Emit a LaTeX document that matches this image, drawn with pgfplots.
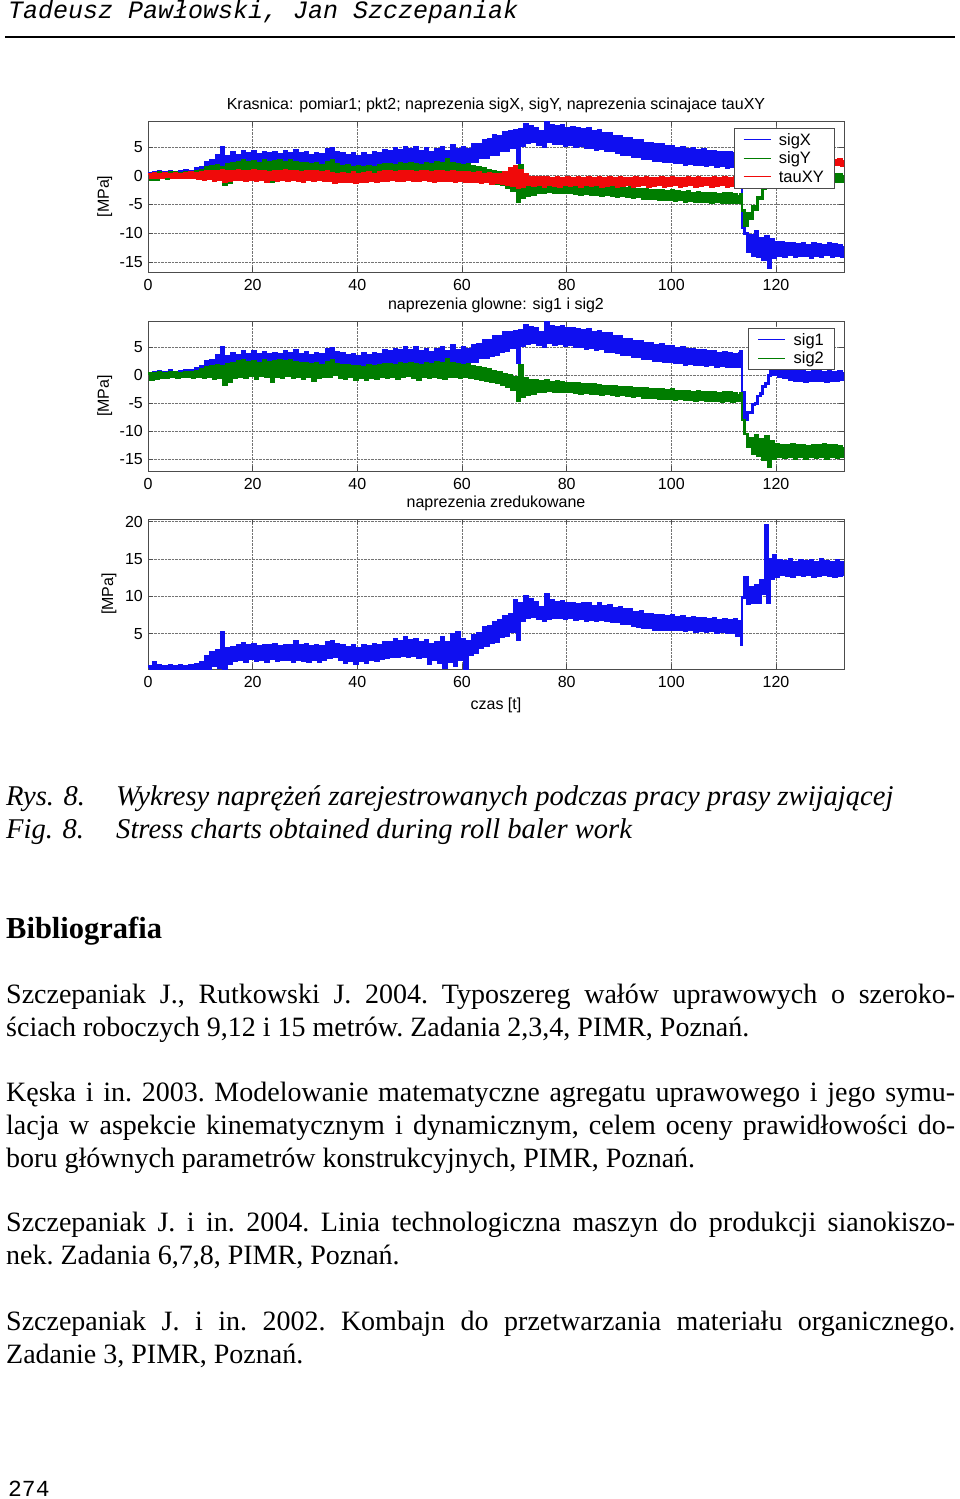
\documentclass[border=0pt]{standalone}
\usepackage{fontspec}
\setmainfont{Liberation Serif}
\newfontfamily\chartfont{Liberation Sans}
\newfontfamily\monofont{Liberation Mono}
\usepackage{pgfplots}
\usepackage{pgfplotstable}
\pgfplotsset{compat=1.18}
\definecolor{mblue}{RGB}{15,15,240}
\definecolor{mgreen}{RGB}{0,125,0}
\definecolor{mred}{RGB}{240,10,10}
\newcommand\cf{\chartfont\fontsize{16}{18}\selectfont}

% blue: sigX = sig1 up to t=113
\pgfplotstableread[row sep=\\]{t y\\
0 0.4\\0.5 -0.5\\1 0.5\\1.5 -0.3\\2 0.7\\2.5 -0.1\\3 0.6\\3.5 0.0\\4 0.8\\4.5 0.1\\5 0.6\\5.5 -0.1\\6 0.7\\6.5 0.2\\7 0.9\\7.5 0.0\\8 0.8\\8.5 0.2\\9 1.2\\9.5 0.1\\
10 1.5\\10.5 0.4\\11 2.4\\11.5 0.5\\12 2.7\\12.5 1.0\\13 3.6\\13.5 0.9\\14 5.0\\14.5 1.2\\15 3.4\\15.5 1.5\\16 4.0\\16.5 1.3\\17 3.6\\17.5 1.7\\18 4.2\\18.5 1.5\\19 3.8\\19.5 2.0\\
20 4.3\\20.5 1.6\\21 3.7\\21.5 1.9\\22 4.1\\22.5 1.6\\23 3.8\\23.5 2.0\\24 4.0\\24.5 1.7\\25 3.7\\25.5 2.1\\26 4.2\\26.5 1.8\\27 3.9\\27.5 1.6\\28 4.4\\28.5 2.0\\29 3.8\\29.5 1.7\\
30 4.1\\30.5 1.5\\31 3.6\\31.5 1.9\\32 3.9\\32.5 1.4\\33 3.7\\33.5 2.0\\34 4.6\\34.5 2.1\\35 4.8\\35.5 2.5\\36 4.1\\36.5 1.8\\37 3.9\\37.5 1.4\\38 3.5\\38.5 1.6\\39 3.8\\39.5 1.1\\
40 3.4\\40.5 1.6\\41 3.9\\41.5 1.3\\42 3.5\\42.5 1.7\\43 4.0\\43.5 1.5\\44 3.8\\44.5 2.0\\45 4.4\\45.5 1.8\\46 4.3\\46.5 2.2\\47 4.7\\47.5 2.1\\48 4.4\\48.5 2.4\\49 5.0\\49.5 2.2\\
50 4.5\\50.5 2.4\\51 4.9\\51.5 2.0\\52 4.3\\52.5 2.1\\53 4.7\\53.5 1.5\\54 4.1\\54.5 1.9\\55 4.6\\55.5 1.4\\56 4.9\\56.5 0.9\\57 4.2\\57.5 1.3\\58 5.3\\58.5 1.2\\59 4.5\\59.5 1.7\\
60 5.0\\60.5 1.9\\61 4.6\\61.5 2.4\\62 5.4\\62.5 2.5\\63 5.5\\63.5 3.1\\64 6.2\\64.5 3.2\\65 6.3\\65.5 3.6\\66 7.0\\66.5 3.7\\67 6.9\\67.5 4.3\\68 7.6\\68.5 4.4\\69 7.7\\69.5 4.9\\
70 7.9\\70.5 2.3\\71 8.0\\71.5 5.3\\72 8.9\\72.5 5.7\\73 8.5\\73.5 5.9\\74 8.3\\74.5 5.4\\75 7.7\\75.5 5.1\\76 9.5\\76.5 5.9\\77 8.7\\77.5 5.5\\78 8.6\\78.5 5.6\\79 8.8\\79.5 5.3\\
80 8.3\\80.5 5.4\\81 8.4\\81.5 5.1\\82 8.2\\82.5 5.2\\83 8.1\\83.5 4.8\\84 8.2\\84.5 4.9\\85 7.7\\85.5 4.6\\86 7.9\\86.5 4.7\\87 7.4\\87.5 4.3\\88 7.4\\88.5 4.3\\89 6.9\\89.5 4.1\\
90 6.9\\90.5 3.7\\91 6.5\\91.5 3.7\\92 6.5\\92.5 3.3\\93 6.1\\93.5 3.3\\94 6.1\\94.5 2.9\\95 5.7\\95.5 3.0\\96 5.7\\96.5 2.7\\97 5.4\\97.5 2.7\\98 5.5\\98.5 2.4\\99 5.1\\99.5 2.5\\
100 5.1\\100.5 2.2\\101 4.8\\101.5 2.3\\102 4.9\\102.5 2.0\\103 4.6\\103.5 2.1\\104 4.7\\104.5 1.9\\105 4.4\\105.5 2.0\\106 4.5\\106.5 1.7\\107 4.2\\107.5 1.9\\108 4.3\\108.5 1.6\\109 4.0\\109.5 1.7\\
110 4.1\\110.5 1.5\\111 4.0\\111.5 1.6\\112 3.8\\112.5 1.5\\113 4.2\\
}\bluemain

\pgfplotstableread[row sep=\\]{t y\\
113 4.2\\113.5 -9.0\\114 -10.0\\114.5 -13.2\\115 -10.4\\115.5 -13.8\\116 -9.6\\116.5 -14.0\\117 -10.8\\117.5 -14.5\\118 -10.5\\118.5 -16.0\\119 -11.0\\119.5 -14.2\\
120 -11.5\\120.5 -13.9\\121 -11.6\\121.5 -14.0\\122 -11.8\\122.5 -13.7\\123 -11.7\\123.5 -14.1\\124 -11.9\\124.5 -13.8\\125 -11.8\\125.5 -13.9\\126 -12.0\\126.5 -14.2\\
127 -11.8\\127.5 -13.8\\128 -11.9\\128.5 -14.0\\129 -12.0\\129.5 -13.7\\130 -11.7\\130.5 -14.1\\131 -11.9\\131.5 -13.9\\132 -12.0\\132.5 -14.0\\133 -12.2\\
}\sigXtail

\pgfplotstableread[row sep=\\]{t y\\
113 4.2\\113.5 -3.0\\114 -8.0\\114.5 -6.6\\115 -6.6\\115.5 -5.2\\116 -5.0\\116.5 -3.7\\117 -3.3\\117.5 -2.0\\118 -1.4\\118.5 0.0\\119 1.5\\119.5 0.1\\
120 1.6\\120.5 -0.2\\121 1.3\\121.5 -0.4\\122 1.0\\122.5 -0.8\\123 0.8\\123.5 -1.0\\124 0.7\\124.5 -0.9\\125 0.8\\125.5 -1.1\\126 0.6\\126.5 -0.9\\
127 0.7\\127.5 -1.0\\128 0.8\\128.5 -0.9\\129 0.6\\129.5 -1.1\\130 0.7\\130.5 -0.9\\131 0.6\\131.5 -1.0\\132 0.7\\132.5 -0.8\\133 0.5\\
}\sigonetail

% green: sigY = sig2 up to t=113
\pgfplotstableread[row sep=\\]{t y\\
0 0.3\\0.5 -0.7\\1 0.4\\1.5 -0.6\\2 0.5\\2.5 -0.4\\3 0.4\\3.5 -0.5\\4 0.6\\4.5 -0.3\\5 0.5\\5.5 -0.4\\6 0.4\\6.5 -0.3\\7 0.6\\7.5 -0.2\\8 0.5\\8.5 -0.4\\9 0.7\\9.5 -0.3\\
10 1.0\\10.5 -0.5\\11 1.4\\11.5 -0.2\\12 1.6\\12.5 -0.6\\13 1.8\\13.5 -0.4\\14 1.5\\14.5 -1.6\\15 2.0\\15.5 -1.2\\16 2.2\\16.5 -0.4\\17 2.4\\17.5 -0.2\\18 2.6\\18.5 -0.5\\19 2.3\\19.5 -0.1\\
20 2.5\\20.5 -0.6\\21 2.2\\21.5 0.0\\22 2.6\\22.5 -0.3\\23 2.3\\23.5 -1.1\\24 2.5\\24.5 -0.2\\25 2.7\\25.5 -0.4\\26 2.4\\26.5 0.0\\27 2.6\\27.5 -0.5\\28 2.3\\28.5 -0.2\\29 2.1\\29.5 -0.6\\
30 2.2\\30.5 -0.3\\31 1.9\\31.5 -0.9\\32 2.1\\32.5 -0.4\\33 1.8\\33.5 -0.2\\34 2.3\\34.5 -0.3\\35 2.6\\35.5 0.1\\36 2.0\\36.5 -0.4\\37 1.7\\37.5 -0.6\\38 1.8\\38.5 -0.3\\39 1.5\\39.5 -0.7\\
40 1.6\\40.5 -0.5\\41 1.4\\41.5 -0.8\\42 1.7\\42.5 -0.4\\43 1.5\\43.5 -0.6\\44 1.8\\44.5 -0.3\\45 1.9\\45.5 -0.5\\46 2.0\\46.5 -0.2\\47 1.8\\47.5 -0.6\\48 2.1\\48.5 -0.3\\49 1.9\\49.5 -0.1\\
50 2.2\\50.5 -0.4\\51 2.0\\51.5 -0.8\\52 1.8\\52.5 -0.3\\53 2.1\\53.5 -0.5\\54 1.9\\54.5 -0.2\\55 2.3\\55.5 -0.4\\56 2.2\\56.5 -0.6\\57 2.9\\57.5 -0.3\\58 2.1\\58.5 -0.2\\59 2.0\\59.5 -0.5\\
60 1.8\\60.5 -0.3\\61 1.9\\61.5 -0.4\\62 1.6\\62.5 -0.6\\63 1.4\\63.5 -0.8\\64 1.2\\64.5 -1.0\\65 1.0\\65.5 -1.1\\66 0.7\\66.5 -1.3\\67 0.5\\67.5 -1.6\\68 0.2\\68.5 -2.0\\69 0.0\\69.5 -2.6\\
70 -0.4\\70.5 -4.5\\71 1.8\\71.5 -3.8\\72 -0.6\\72.5 -3.5\\73 -0.9\\73.5 -3.2\\74 -1.0\\74.5 -3.0\\75 -1.1\\75.5 -2.9\\76 -1.0\\76.5 -2.8\\77 -1.2\\77.5 -2.9\\78 -1.1\\78.5 -3.0\\79 -1.3\\79.5 -2.9\\
80 -1.4\\80.5 -3.0\\81 -1.5\\81.5 -3.1\\82 -1.4\\82.5 -3.2\\83 -1.6\\83.5 -3.1\\84 -1.7\\84.5 -3.3\\85 -1.6\\85.5 -3.2\\86 -1.8\\86.5 -3.4\\87 -1.9\\87.5 -3.3\\88 -2.0\\88.5 -3.5\\89 -1.9\\89.5 -3.6\\
90 -2.1\\90.5 -3.5\\91 -2.2\\91.5 -3.7\\92 -2.1\\92.5 -3.8\\93 -2.3\\93.5 -3.7\\94 -2.4\\94.5 -3.9\\95 -2.3\\95.5 -4.0\\96 -2.5\\96.5 -3.9\\97 -2.6\\97.5 -4.1\\98 -2.5\\98.5 -4.2\\99 -2.7\\99.5 -4.1\\
100 -2.6\\100.5 -4.3\\101 -2.8\\101.5 -4.2\\102 -2.9\\102.5 -4.4\\103 -2.8\\103.5 -4.3\\104 -3.0\\104.5 -4.5\\105 -2.9\\105.5 -4.4\\106 -3.1\\106.5 -4.5\\107 -3.0\\107.5 -4.6\\108 -3.1\\108.5 -4.5\\109 -3.2\\109.5 -4.7\\
110 -3.0\\110.5 -4.6\\111 -3.1\\111.5 -4.7\\112 -3.2\\112.5 -4.6\\113 -3.3\\
}\greenmain

\pgfplotstableread[row sep=\\]{t y\\
113 -3.3\\113.5 -6.0\\114 -8.6\\114.5 -6.6\\115 -7.4\\115.5 -5.4\\116 -5.8\\116.5 -3.8\\117 -4.0\\117.5 -2.2\\118 -2.0\\118.5 -0.4\\119 0.5\\119.5 -1.0\\
120 0.4\\120.5 -1.1\\121 0.3\\121.5 -1.2\\122 0.4\\122.5 -1.0\\123 0.2\\123.5 -1.1\\124 0.3\\124.5 -1.2\\125 0.2\\125.5 -1.0\\126 0.4\\126.5 -1.1\\
127 0.2\\127.5 -1.2\\128 0.3\\128.5 -1.0\\129 0.2\\129.5 -1.1\\130 0.3\\130.5 -1.2\\131 0.2\\131.5 -1.0\\132 0.3\\132.5 -1.1\\133 0.1\\
}\sigYtail

\pgfplotstableread[row sep=\\]{t y\\
113 -3.3\\113.5 -8.0\\114 -10.5\\114.5 -12.8\\115 -11.2\\115.5 -14.0\\116 -10.8\\116.5 -14.4\\117 -11.5\\117.5 -15.0\\118 -11.0\\118.5 -16.3\\119 -11.8\\119.5 -14.8\\
120 -12.4\\120.5 -14.6\\121 -12.5\\121.5 -14.7\\122 -12.6\\122.5 -14.5\\123 -12.4\\123.5 -14.8\\124 -12.6\\124.5 -14.6\\125 -12.5\\125.5 -14.9\\126 -12.7\\126.5 -14.6\\
127 -12.5\\127.5 -14.7\\128 -12.6\\128.5 -14.5\\129 -12.4\\129.5 -14.8\\130 -12.6\\130.5 -14.6\\131 -12.5\\131.5 -14.7\\132 -12.7\\132.5 -14.5\\133 -12.8\\
}\sigtwotail

% red: tauXY
\pgfplotstableread[row sep=\\]{t y\\
0 0.3\\0.5 -0.4\\1 0.4\\1.5 -0.3\\2 0.3\\2.5 -0.4\\3 0.4\\3.5 -0.2\\4 0.3\\4.5 -0.3\\5 0.4\\5.5 -0.3\\6 0.3\\6.5 -0.4\\7 0.4\\7.5 -0.3\\8 0.5\\8.5 -0.4\\9 0.4\\9.5 -0.5\\
10 0.6\\10.5 -0.6\\11 0.8\\11.5 -0.5\\12 0.7\\12.5 -0.9\\13 0.8\\13.5 -0.6\\14 0.9\\14.5 -1.1\\15 0.7\\15.5 -0.8\\16 0.8\\16.5 -0.6\\17 0.9\\17.5 -0.7\\18 0.7\\18.5 -0.9\\19 0.8\\19.5 -0.6\\
20 0.9\\20.5 -0.8\\21 0.7\\21.5 -0.7\\22 0.8\\22.5 -1.0\\23 0.6\\23.5 -0.7\\24 0.8\\24.5 -0.8\\25 0.7\\25.5 -0.6\\26 0.9\\26.5 -0.9\\27 0.7\\27.5 -0.7\\28 0.8\\28.5 -0.8\\29 0.6\\29.5 -1.1\\
30 0.8\\30.5 -0.7\\31 0.7\\31.5 -0.8\\32 0.8\\32.5 -0.6\\33 0.6\\33.5 -0.9\\34 0.7\\34.5 -0.8\\35 0.4\\35.5 -1.2\\36 0.3\\36.5 -1.0\\37 0.4\\37.5 -1.1\\38 0.3\\38.5 -1.0\\39 0.5\\39.5 -1.2\\
40 0.3\\40.5 -1.0\\41 0.4\\41.5 -1.1\\42 0.5\\42.5 -0.9\\43 0.3\\43.5 -1.0\\44 0.6\\44.5 -0.9\\45 0.7\\45.5 -0.8\\46 0.8\\46.5 -0.7\\47 0.6\\47.5 -0.9\\48 0.7\\48.5 -0.8\\49 0.8\\49.5 -0.6\\
50 0.7\\50.5 -0.8\\51 0.6\\51.5 -0.9\\52 0.8\\52.5 -0.7\\53 0.7\\53.5 -0.8\\54 0.6\\54.5 -1.0\\55 0.7\\55.5 -0.8\\56 0.8\\56.5 -0.9\\57 0.6\\57.5 -0.8\\58 0.7\\58.5 -1.0\\59 0.6\\59.5 -0.9\\
60 0.5\\60.5 -1.0\\61 0.6\\61.5 -1.1\\62 0.4\\62.5 -1.0\\63 0.5\\63.5 -1.2\\64 0.3\\64.5 -1.1\\65 0.4\\65.5 -1.3\\66 0.2\\66.5 -1.2\\67 0.3\\67.5 -1.4\\68 0.5\\68.5 -1.5\\69 1.2\\69.5 -1.7\\
70 1.6\\70.5 -2.0\\71 1.0\\71.5 -1.8\\72 0.3\\72.5 -1.6\\73 -0.2\\73.5 -1.7\\74 -0.3\\74.5 -1.6\\75 -0.2\\75.5 -1.8\\76 -0.3\\76.5 -1.6\\77 -0.4\\77.5 -1.7\\78 -0.3\\78.5 -1.8\\79 -0.4\\79.5 -1.6\\
80 -0.3\\80.5 -1.7\\81 -0.4\\81.5 -1.6\\82 -0.2\\82.5 -1.8\\83 -0.4\\83.5 -1.6\\84 -0.3\\84.5 -1.7\\85 -0.5\\85.5 -1.6\\86 -0.3\\86.5 -1.8\\87 -0.4\\87.5 -1.7\\88 -0.3\\88.5 -1.6\\89 -0.4\\89.5 -1.8\\
90 -0.3\\90.5 -1.7\\91 -0.5\\91.5 -1.6\\92 -0.4\\92.5 -1.8\\93 -0.3\\93.5 -1.7\\94 -0.4\\94.5 -1.6\\95 -0.3\\95.5 -1.8\\96 -0.5\\96.5 -1.7\\97 -0.4\\97.5 -1.6\\98 -0.3\\98.5 -1.8\\99 -0.4\\99.5 -1.7\\
100 -0.3\\100.5 -1.6\\101 -0.4\\101.5 -1.8\\102 -0.5\\102.5 -1.7\\103 -0.3\\103.5 -1.6\\104 -0.4\\104.5 -1.8\\105 -0.3\\105.5 -1.7\\106 -0.4\\106.5 -1.6\\107 -0.5\\107.5 -1.8\\108 -0.3\\108.5 -1.7\\109 -0.4\\109.5 -1.6\\
110 -0.3\\110.5 -1.8\\111 -0.4\\111.5 -1.7\\112 -0.3\\112.5 -1.6\\113 -0.4\\113.5 -1.8\\114 0.5\\114.5 -0.5\\115 1.5\\115.5 0.8\\116 2.6\\116.5 1.8\\117 2.7\\117.5 1.9\\118 2.6\\118.5 1.8\\119 2.7\\119.5 1.9\\
120 2.8\\120.5 1.8\\121 2.6\\121.5 1.9\\122 2.7\\122.5 1.8\\123 2.6\\123.5 1.9\\124 2.8\\124.5 1.8\\125 2.7\\125.5 1.9\\126 2.6\\126.5 1.8\\127 2.7\\127.5 1.9\\128 2.8\\128.5 1.8\\129 2.6\\129.5 1.9\\
130 2.7\\130.5 1.8\\131 2.6\\131.5 1.9\\132 2.8\\132.5 1.8\\133 2.7\\
}\redtau

% reduced stress
\pgfplotstableread[row sep=\\]{t y\\
0 0.6\\0.5 0.2\\1 1.2\\1.5 0.3\\2 0.7\\2.5 0.2\\3 0.6\\3.5 0.2\\4 0.7\\4.5 0.3\\5 0.6\\5.5 0.2\\6 0.7\\6.5 0.3\\7 0.6\\7.5 0.2\\8 0.8\\8.5 0.3\\9 0.9\\9.5 0.2\\
10 1.2\\10.5 0.3\\11 2.0\\11.5 0.4\\12 2.5\\12.5 0.8\\13 2.8\\13.5 0.5\\14 5.2\\14.5 0.3\\15 3.0\\15.5 1.0\\16 3.2\\16.5 1.4\\17 3.4\\17.5 1.6\\18 3.7\\18.5 1.3\\19 3.4\\19.5 1.7\\
20 3.6\\20.5 1.4\\21 3.3\\21.5 1.6\\22 3.5\\22.5 1.3\\23 3.4\\23.5 1.7\\24 3.6\\24.5 1.4\\25 3.3\\25.5 1.6\\26 3.5\\26.5 1.5\\27 3.4\\27.5 1.3\\28 4.0\\28.5 1.6\\29 3.5\\29.5 1.4\\
30 3.6\\30.5 1.3\\31 3.3\\31.5 1.6\\32 3.4\\32.5 1.3\\33 3.3\\33.5 1.6\\34 3.8\\34.5 1.8\\35 4.0\\35.5 1.9\\36 3.6\\36.5 1.5\\37 3.4\\37.5 1.2\\38 3.2\\38.5 1.4\\39 3.4\\39.5 1.0\\
40 3.1\\40.5 1.4\\41 3.5\\41.5 1.2\\42 3.3\\42.5 1.5\\43 3.6\\43.5 1.4\\44 3.5\\44.5 1.7\\45 3.9\\45.5 1.8\\46 3.9\\46.5 2.0\\47 4.2\\47.5 1.9\\48 4.0\\48.5 2.1\\49 4.5\\49.5 2.0\\
50 4.1\\50.5 2.1\\51 4.3\\51.5 1.8\\52 3.8\\52.5 1.9\\53 4.1\\53.5 1.0\\54 3.6\\54.5 1.6\\55 3.9\\55.5 1.2\\56 4.5\\56.5 0.5\\57 3.8\\57.5 1.3\\58 4.9\\58.5 0.8\\59 5.2\\59.5 1.5\\
60 4.3\\60.5 0.3\\61 4.0\\61.5 2.2\\62 4.8\\62.5 2.5\\63 5.0\\63.5 3.2\\64 5.8\\64.5 3.4\\65 6.0\\65.5 3.8\\66 6.5\\66.5 4.0\\67 6.8\\67.5 4.6\\68 7.3\\68.5 4.8\\69 7.6\\69.5 5.3\\
70 9.4\\70.5 4.2\\71 9.0\\71.5 6.8\\72 10.0\\72.5 7.2\\73 9.6\\73.5 7.3\\74 9.2\\74.5 7.0\\75 8.5\\75.5 6.8\\76 10.2\\76.5 7.0\\77 9.4\\77.5 7.1\\78 9.2\\78.5 7.2\\79 9.3\\79.5 7.0\\
80 9.0\\80.5 7.1\\81 9.1\\81.5 6.9\\82 8.9\\82.5 7.0\\83 9.0\\83.5 6.8\\84 9.1\\84.5 6.9\\85 8.7\\85.5 6.8\\86 9.0\\86.5 6.9\\87 8.6\\87.5 6.7\\88 8.8\\88.5 6.6\\89 8.4\\89.5 6.6\\
90 8.5\\90.5 6.4\\91 8.2\\91.5 6.3\\92 8.3\\92.5 6.1\\93 7.9\\93.5 6.0\\94 8.0\\94.5 5.8\\95 7.6\\95.5 5.8\\96 7.6\\96.5 5.6\\97 7.4\\97.5 5.6\\98 7.5\\98.5 5.6\\99 7.3\\99.5 5.6\\
100 7.4\\100.5 5.6\\101 7.2\\101.5 5.5\\102 7.3\\102.5 5.4\\103 7.1\\103.5 5.5\\104 7.2\\104.5 5.3\\105 7.0\\105.5 5.4\\106 7.1\\106.5 5.3\\107 6.9\\107.5 5.4\\108 7.0\\108.5 5.2\\109 6.8\\109.5 5.3\\
110 6.9\\110.5 5.1\\111 6.8\\111.5 5.2\\112 6.9\\112.5 4.8\\113 6.7\\113.3 3.5\\113.5 9.8\\114 12.6\\114.5 9.0\\115 11.2\\115.5 9.2\\116 11.4\\116.5 9.1\\117 12.2\\117.5 10.4\\118 19.5\\118.4 9.2\\118.7 15.0\\119 12.4\\119.5 15.5\\
120 12.6\\120.5 14.8\\121 12.9\\121.5 14.7\\122 12.8\\122.5 14.9\\123 12.7\\123.5 14.6\\124 12.9\\124.5 14.8\\125 12.8\\125.5 14.7\\126 12.9\\126.5 14.8\\127 12.7\\127.5 14.6\\128 12.8\\128.5 14.9\\129 12.9\\129.5 14.7\\
130 12.8\\130.5 14.6\\131 12.6\\131.5 14.8\\132 12.8\\132.5 14.6\\133 12.7\\
}\sigred

\pgfplotsset{
  mplot/.style={
    scale only axis, width=696pt, xmin=0, xmax=133,
    xtick={0,20,40,60,80,100,120},
    xticklabels={0,20,40,60,80,100,120},
    tick align=inside, major tick length=5pt,
    grid=major,
    grid style={densely dotted, black!55, line width=0.6pt},
    axis line style={black!70, line width=0.8pt},
    every tick/.style={black!70, line width=0.6pt},
    tick label style={font=\cf},
    xticklabel style={anchor=north, inner sep=0pt, yshift=-7pt},
    yticklabel style={anchor=east, inner sep=0pt, xshift=-5pt},
    title style={font=\cf, anchor=base, at={(axis description cs:0.5,1)}, yshift=6pt, inner sep=0pt},
    ylabel={[MPa]},
    ylabel style={font=\cf, at={(axis description cs:-0.062,0.5)}, anchor=center, inner sep=0pt},
    legend cell align=left,
    legend style={at={(axis description cs:1,1)}, anchor=north east,
      xshift=-9pt, yshift=-7pt, draw=black!70, line width=0.8pt, fill=white,
      inner xsep=9pt, inner ysep=2pt, column sep=6.25pt, row sep=0pt,
      font=\chartfont\fontsize{16.5}{18}\selectfont,
      nodes={inner sep=1.75pt, text height=13pt, text depth=2pt}},
    legend image code/.code={\draw[#1, line width=0.8pt] (0pt,0pt) -- (27pt,0pt);},
    every axis plot/.append style={const plot, line width=2.8pt, line join=miter},
  }
}

\begin{document}
\begin{tikzpicture}[x=1pt,y=1pt]
\useasboundingbox (0pt,0pt) rectangle (960pt,-1499pt);
\fill[white] (0pt,0pt) rectangle (960pt,-1499pt);

% running head
\node[anchor=base west, inner sep=0pt, font=\monofont\itshape\fontsize{25}{30}\selectfont] at (8pt,-19pt) {Tadeusz Pawłowski, Jan Szczepaniak};
\draw[line width=1.5pt] (5pt,-37pt) -- (955pt,-37pt);

% chart 1
\begin{axis}[mplot, at={(148pt,-272pt)}, anchor=south west, height=151pt,
  ymin=-16.7, ymax=9.5,
  ytick={-15,-10,-5,0,5}, yticklabels={-15,-10,-5,0,5},
  title={Krasnica: pomiar1; pkt2; naprezenia sigX, sigY, naprezenia scinajace tauXY}]
\addplot[mblue] table {\bluemain};
\addlegendentry{sigX}
\addplot[mblue, forget plot] table {\sigXtail};
\addplot[mgreen] table {\greenmain};
\addlegendentry{sigY}
\addplot[mgreen, forget plot] table {\sigYtail};
\addplot[mred] table {\redtau};
\addlegendentry{tauXY}
\end{axis}

% chart 2
\begin{axis}[mplot, at={(148pt,-471pt)}, anchor=south west, height=150pt,
  ymin=-17.1, ymax=9.7,
  ytick={-15,-10,-5,0,5}, yticklabels={-15,-10,-5,0,5},
  title={naprezenia glowne: sig1 i sig2}]
\addplot[mblue] table {\bluemain};
\addlegendentry{sig1}
\addplot[mblue, forget plot] table {\sigonetail};
\addplot[mgreen] table {\greenmain};
\addlegendentry{sig2}
\addplot[mgreen, forget plot] table {\sigtwotail};
\end{axis}

% chart 3
\begin{axis}[mplot, at={(148pt,-669pt)}, anchor=south west, height=150pt,
  ymin=0.28, ymax=20.35,
  ytick={5,10,15,20}, yticklabels={5,10,15,20},
  title={naprezenia zredukowane},
  xlabel={czas [t]},
  xlabel style={font=\cf, at={(axis description cs:0.5,0)}, anchor=base, yshift=-40pt, inner sep=0pt},
  ylabel style={at={(axis description cs:-0.056,0.5)}}]
\addplot[mblue] table {\sigred};
\end{axis}

% caption
\node[anchor=base west, inner sep=0pt, font=\itshape\fontsize{28.6}{33}\selectfont] at (6pt,-805pt) {Rys. 8.};
\node[anchor=base west, inner sep=0pt, font=\itshape\fontsize{28.6}{33}\selectfont] at (116pt,-805pt) {Wykresy naprężeń zarejestrowanych podczas pracy prasy zwijającej};
\node[anchor=base west, inner sep=0pt, font=\itshape\fontsize{28.6}{33}\selectfont] at (6pt,-838pt) {Fig. 8.};
\node[anchor=base west, inner sep=0pt, font=\itshape\fontsize{28.6}{33}\selectfont] at (116pt,-838pt) {Stress charts obtained during roll baler work};

% bibliography
\node[anchor=base west, inner sep=0pt, font=\bfseries\fontsize{30.5}{36}\selectfont] at (6pt,-938pt) {Bibliografia};

\node[anchor=base west, inner sep=0pt, text width=949pt, align=justify, font=\frenchspacing\fontsize{28}{33}\selectfont] at (6pt,-1003pt)
{\frenchspacing Szczepaniak J., Rutkowski J. 2004. Typoszereg wałów uprawowych o szeroko-\linebreak ściach roboczych 9,12 i 15 metrów. Zadania 2,3,4, PIMR, Poznań.};

\node[anchor=base west, inner sep=0pt, text width=949pt, align=justify, font=\frenchspacing\fontsize{28}{33}\selectfont] at (6pt,-1101pt)
{\frenchspacing Kęska i in. 2003. Modelowanie matematyczne agregatu uprawowego i jego symu-\linebreak lacja w aspekcie kinematycznym i dynamicznym, celem oceny prawidłowości do-\linebreak boru głównych parametrów konstrukcyjnych, PIMR, Poznań.};

\node[anchor=base west, inner sep=0pt, text width=949pt, align=justify, font=\frenchspacing\fontsize{28}{33}\selectfont] at (6pt,-1231pt)
{\frenchspacing Szczepaniak J. i in. 2004. Linia technologiczna maszyn do produkcji sianokiszo-\linebreak nek. Zadania 6,7,8, PIMR, Poznań.};

\node[anchor=base west, inner sep=0pt, text width=949pt, align=justify, font=\frenchspacing\fontsize{28}{33}\selectfont] at (6pt,-1330pt)
{\frenchspacing Szczepaniak J. i in. 2002. Kombajn do przetwarzania materiału organicznego.\linebreak Zadanie 3, PIMR, Poznań.};

% page number
\node[anchor=base west, inner sep=0pt, font=\monofont\fontsize{23}{28}\selectfont] at (8pt,-1496pt) {274};
\end{tikzpicture}
\end{document}
